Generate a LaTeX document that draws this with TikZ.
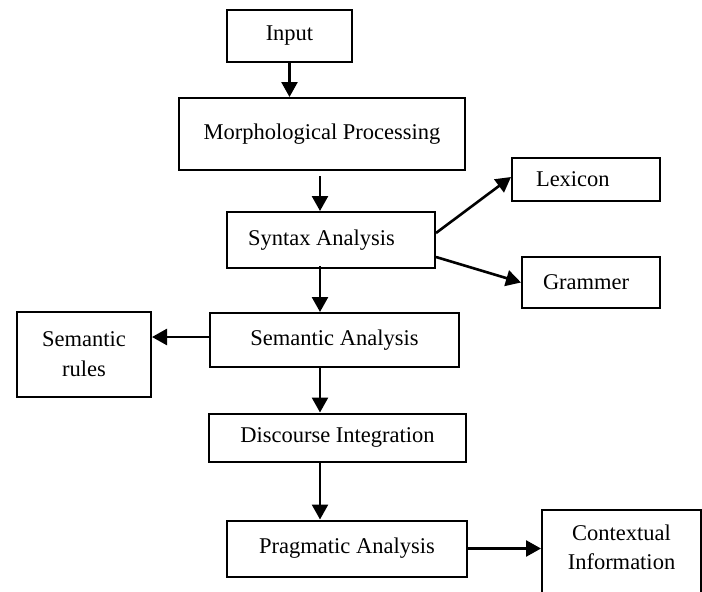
\documentclass[tikz,border=0pt]{standalone}
\usepackage{fontspec}
\setmainfont{Liberation Serif}
\usetikzlibrary{arrows.meta}

\begin{document}
\begin{tikzpicture}[x=1pt,y=-1pt,
  box/.style={draw=black, line width=2pt, rectangle, align=center,
    font=\fontsize{22.5}{30}\selectfont, inner sep=0pt},
  arr/.style={line width=2.6pt, -{Triangle[width=16pt,length=15pt]}}]
\clip (0,0) rectangle (702,592);
\coordinate (spine) at (320,0);
% main chain
\node[box, minimum width=125pt, minimum height=52pt] (input) at (289.5,36) {Input};
\node[box, minimum width=286pt, minimum height=72pt] (morph) at (322,134) {Morphological Processing};
\node[box, minimum width=208pt, minimum height=56pt, text width=166pt, align=flush left] (syntax) at (331,240) {Syntax Analysis};
\node[box, minimum width=249pt, minimum height=54pt] (semantic) at (334.5,340) {Semantic Analysis};
\node[box, minimum width=257pt, minimum height=48pt] (discourse) at (337.5,437.5) {Discourse Integration};
\node[box, minimum width=240pt, minimum height=56pt] (pragmatic) at (347,548.5) {Pragmatic Analysis};
% side boxes
\node[box, minimum width=148pt, minimum height=43pt, text width=100pt, align=flush left] (lexicon) at (586,179.5) {Lexicon};
\node[box, minimum width=138pt, minimum height=51pt, text width=96pt, align=flush left] (grammer) at (591,282.5) {Grammer};
\node[box, minimum width=134pt, minimum height=85pt] (rules) at (84,354.5) {Semantic\\rules};
\node[box, minimum width=159pt, minimum height=100pt, anchor=north] (context) at (621.5,509) {};
\node[font=\fontsize{22.5}{29}\selectfont, align=center] (contexttext) at (621.5,547) {Contextual\\Information};
% arrows
\draw[arr] (input.south) -- (morph.north -| input.south);
\draw[arr] ([yshift=-5pt]morph.south -| spine) -- (syntax.north -| spine);
\draw[arr] ([yshift=3pt]syntax.south -| spine) -- (semantic.north -| spine);
\draw[arr] (semantic.south -| spine) -- (discourse.north -| spine);
\draw[arr] (discourse.south -| spine) -- (pragmatic.north -| spine);
\draw[arr] ([yshift=3pt]semantic.west) -- ([yshift=3pt]semantic.west -| rules.east);
\draw[arr] ([yshift=7pt]syntax.east) -- ([yshift=2.5pt]lexicon.west);
\draw[arr] ([yshift=-17pt]syntax.east) -- (grammer.west);
\draw[arr] (pragmatic.east) -- (pragmatic.east -| context.west);
\end{tikzpicture}
\end{document}
